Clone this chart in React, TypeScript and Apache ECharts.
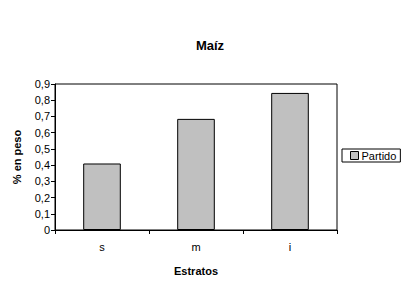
import React, { useEffect, useRef } from "react";
import * as echarts from "echarts";

const categories = ["s", "m", "i"];
const partido = [0.41, 0.685, 0.845];
const seriesName = "Partido";
const title = "Maíz";
const yName = "% en peso";
const xName = "Estratos";

export default function App() {
  const ref = useRef<HTMLDivElement>(null);
  useEffect(() => {
    if (!ref.current) return;
    const chart = echarts.init(ref.current, null, { renderer: "svg" });
    const font = "Liberation Sans, Arial, sans-serif";
    chart.setOption({
      animation: false,
      backgroundColor: "#fff",
      textStyle: { fontFamily: font },
      title: {
        text: title,
        left: 205,
        textAlign: "center",
        top: 34,
        textStyle: { fontSize: 13, fontWeight: "bold", color: "#000", fontFamily: font },
      },
      legend: {
        data: [seriesName],
        left: 342,
        top: 149,
        orient: "vertical",
        borderColor: "#000",
        borderWidth: 1,
        padding: [1, 4, 1, 8],
        itemWidth: 8,
        itemHeight: 8,
        itemGap: 2,
        icon: "rect",
        textStyle: { fontSize: 11, color: "#000", fontFamily: font, padding: [0, 0, 0, -2] },
        itemStyle: { borderColor: "#000", borderWidth: 1 },
      },
      grid: {
        left: 55,
        right: 72,
        top: 84,
        bottom: 51,
        show: true,
        borderColor: "#000",
        borderWidth: 1,
      },
      xAxis: {
        type: "category",
        data: categories,
        name: xName,
        nameLocation: "middle",
        nameGap: 35,
        nameTextStyle: { fontSize: 11, fontWeight: "bold", color: "#000", fontFamily: font },
        axisLine: { lineStyle: { color: "#000", width: 1 } },
        axisTick: { show: true, alignWithLabel: false, length: 4, lineStyle: { color: "#000" } },
        axisLabel: { fontSize: 11, color: "#000", margin: 11, fontFamily: font },
      },
      yAxis: {
        type: "value",
        min: 0,
        max: 0.9,
        interval: 0.1,
        name: yName,
        nameLocation: "middle",
        nameGap: 33,
        nameRotate: 90,
        nameTextStyle: { fontSize: 11, fontWeight: "bold", color: "#000", fontFamily: font },
        axisLine: { show: true, lineStyle: { color: "#000", width: 1 } },
        axisTick: { show: true, length: 4, lineStyle: { color: "#000" } },
        splitLine: { show: false },
        axisLabel: {
          fontSize: 11,
          color: "#000",
          margin: 5,
          fontFamily: font,
          formatter: (v: number) => (Math.round(v * 10) / 10).toString().replace(".", ","),
        },
      },
      series: [
        {
          name: seriesName,
          type: "bar",
          data: partido,
          barWidth: "40%",
          itemStyle: { color: "#c0c0c0", borderColor: "#000", borderWidth: 1 },
        },
      ],
    });
    return () => chart.dispose();
  }, []);
  return <div ref={ref} style={{ width: 409, height: 281, position: "absolute", left: 0, top: 0 }} />;
}
